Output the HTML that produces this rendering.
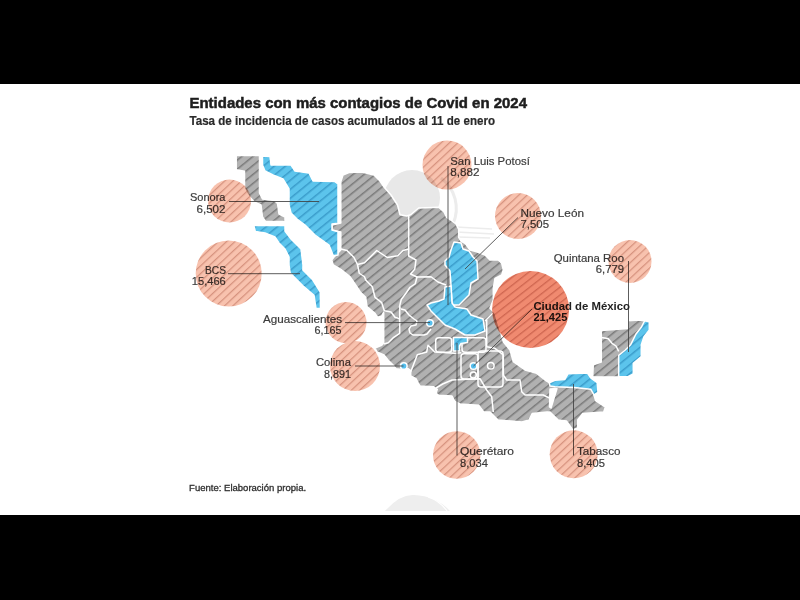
<!DOCTYPE html>
<html><head><meta charset="utf-8">
<style>
html,body{margin:0;padding:0;background:#000;}
body{width:800px;height:600px;overflow:hidden;position:relative;}
svg{position:absolute;left:0;top:0;}
text{font-family:"Liberation Sans",sans-serif;}
</style></head>
<body>
<svg width="800" height="600" viewBox="0 0 800 600">
<defs>
<pattern id="hg" patternUnits="userSpaceOnUse" width="7" height="7" patternTransform="rotate(-39)">
<rect width="7" height="7" fill="#b1b1b1"/><rect y="0" width="7" height="1.5" fill="#7a7a7a"/>
</pattern>
<pattern id="hb" patternUnits="userSpaceOnUse" width="7" height="7" patternTransform="rotate(-39)">
<rect width="7" height="7" fill="#5cc4ec"/><rect y="0" width="7" height="1.5" fill="#3a9ccb"/>
</pattern>
<pattern id="hs" patternUnits="userSpaceOnUse" width="5.7" height="5.7" patternTransform="rotate(-43)">
<rect width="5.7" height="5.7" fill="#f8c2ae"/><rect y="0" width="5.7" height="1.25" fill="#d6927e"/>
</pattern>
<pattern id="hc" patternUnits="userSpaceOnUse" width="6.2" height="6.2" patternTransform="rotate(-38)">
<rect width="6.2" height="6.2" fill="#f08a70"/><rect y="0" width="6.2" height="1.3" fill="#cf6650"/>
</pattern>
</defs>
<rect x="0" y="84" width="800" height="431" fill="#ffffff"/>

<!-- watermark -->
<g fill="none" stroke="#ececec">
<circle cx="412" cy="198" r="28" fill="#e8e8e8" stroke="none"/>
<path d="M441 178 A38 38 0 0 1 453 224" stroke-width="3"/>
<path d="M456 227 L492 229 M456 232 L494 234 M458 237 L490 238" stroke-width="1.6"/>
<path d="M385 511 Q400 494 414 495 Q436 496 450 511 Z" fill="#eeeeee" stroke="none"/><path d="M428 497 Q440 501 447 511" stroke="#fff" stroke-width="1.2"/>
</g>
<!-- map -->
<g id="map" stroke="#fff" stroke-width="1.5" stroke-linejoin="round">
<!-- Baja California -->
<path fill="url(#hg)" d="M236.2,155.5 L259.5,155.5 L259.5,193 L262.5,199 L274.5,200.5 L277.5,203.5 L279,214 L285,217 L285,221.5 L265.5,221.5 L262.5,217 L261,205 L254.2,202 L247.5,194.5 L244.5,188.5 L244.5,171.2 L236.2,169.7 Z"/>
<!-- BCS -->
<path fill="url(#hb)" d="M253.8,225.5 L285,225.5 L285,231 L291,239 L297,245 L301,249 L303,265 L302.9,269.9 L312.4,279.4 L320.3,292 L320.5,308.5 L316,308.5 L314,295.3 L302.9,285.8 L290.2,273 L289,265 L289,257 L285,249 L279,243 L275,237 L265,233 L255.3,231.5 Z"/>
<!-- mainland gray -->
<path fill="url(#hg)" d="M340.8,181.7 L343,175 L349,172.5 L362,172 L374,175 L380,181 L384,187 L391,195 L397.5,205 L400,214.7 L406.7,216 L410.7,214.7 L418.7,208 L438.7,207.3 L444,212 L446.7,217.3 L450.7,220 L456,224 L458.7,229.3 L458.7,237.3 L461,241 L465.3,243.5 L470,250 L476.7,251.7 L485,255 L490,260 L498.3,260 L501.7,263.3 L503.3,270 L501.7,275 L495,278.3 L493.3,288.3 L493.3,300 L490,308.3 L495,313.3 L500,330 L503.3,341.7 L510,350 L513.3,361.7 L525,370 L536.7,373.3 L545,380 L550,383 L555,380.3 L564.7,379.5 L568,373.8 L587.5,373 L590.7,377.9 L597.2,382.7 L598,392.5 L594,395 L595.6,400.6 L605.4,407 L603.7,412 L582.6,413.6 L577.7,420 L577.7,428 L572.9,429.9 L566.4,421 L558.2,420.1 L550,412 L546.9,412 L532.2,413.6 L529,420 L522,422 L498,420 L490,412 L483.7,412 L478.7,405.3 L460,404 L454.7,401.3 L452,396 L438.7,395.3 L436,393.3 L437.3,389.3 L433.3,386.7 L420,386 L418.7,384 L416,378.7 L410.7,376 L410.7,370.7 L408,368.7 L400,369.3 L396,368.7 L393.3,365.3 L388,360 L384,355 L377,352 L375,348 L381.7,345.3 L383.7,342.7 L383.7,312 L381.7,316 L377.7,317.3 L375,313.3 L367,306.7 L365.7,297.3 L360.3,292 L355,284 L350,276.7 L341.7,270 L333.3,265 L331.7,260 L334,257 L340.8,250 L340.8,232 L332,230 L332,225 L340.8,223 Z"/>
<!-- Sonora -->
<path fill="url(#hb)" d="M262.5,156 L270,156.5 L271,165 L291,165 L295,171 L309,173 L313,181 L334.6,181.5 L338,184 L338,223.3 L332,224 L332,230 L338,231.7 L338,255 L333.3,255.8 L329,245 L315,235 L305,225 L297,219 L291,213 L289,205 L289,189 L283,179 L273,175 L265,171 L262.5,165 Z"/>
<!-- Yucatan peninsula gray -->
<path fill="url(#hg)" d="M601.3,330.5 L628,328.5 L628,320.7 L640,320 L645,321 L646,326 L641,336 L638,346 L630,356 L625,377 L592.7,376.7 L593.3,364.7 L601.3,362 Z"/>
<!-- Quintana Roo -->
<path fill="url(#hb)" d="M618.7,376.7 L618.7,355.3 L625.3,350 L630.7,344.7 L636,334 L641.3,327.3 L644,322 L645.3,320.7 L649.3,322 L649.3,330 L644,336.7 L641.3,344.7 L641.3,356.7 L633.3,363.3 L633.3,374 L628,376.7 Z"/>
<!-- internal borders -->
<g fill="none">
<path d="M601.3,337.5 L608,338.5 L612,343.3 L616,346 L618.7,351.3"/>
<path d="M340.8,249 L347,250.5 L354,257.5 L357.5,264.5 L364.5,262.75 L371.5,255.75 L376.75,250.5 L382,254 L387.25,257.5 L397.75,255.75 L403,250.5 L408.7,249"/>
<path d="M408.7,215 L408.7,256 L416,260 L414.7,269.3 L410.5,274 L417,277 L415.25,283.75 L410,287.25 L406.5,292.5 L401.25,299.5 L399.5,306.5 L400,309"/>
<path d="M417,277 L431,276.75 L438,282 L446,285"/>
<path d="M357.5,264.5 L359.25,273.25 L364.5,276.75 L365.7,280 L372.3,286.7 L375,297.3 L381.7,302.7 L384.3,310.7 L391,312 L395,317.3 L399.7,318.7"/>
<path d="M399.7,306 L399.7,333.3 L393.7,337.3 L388.3,342.7 L383.7,344"/>
<path d="M401,309 L405,310 L409,315 L414,319 L417,321 L416,325 L411,326 L409,329 L410,333 L413,335 L424,335 L427,334 L431,329"/>
<path d="M410.7,372 L417.3,354.7 L426.7,352 L428,345.3 L434.7,352 L454.7,353.3 L461.3,352.7"/>
<path d="M436,388 L442.7,384 L452,380 L480,378.7 L486.7,390 L491.7,396.7 L493.3,412"/>
<path d="M486.7,320 L486.7,346.7 L495,348.3 L503.3,355 L503.3,375 L506.7,380 L520,380 L521.7,391.7 L525,395 L543.3,395 L550,398.3 L553,392"/>
<path d="M550,389 L557,388.5 L551,408 L549.5,407 Z" fill="#fff"/>
<rect x="435.7" y="337.7" width="16" height="14.6" rx="3"/>
<rect x="462" y="337.7" width="24" height="14.6" rx="3"/>
<rect x="461" y="353.7" width="17" height="25.3" rx="3"/>
<rect x="478" y="351" width="25" height="36" rx="3"/>
<circle cx="490.8" cy="365.8" r="3.3"/>
<circle cx="473.3" cy="375" r="3"/>
<path d="M485,321 L493,313"/>
</g>
<!-- Nuevo Leon -->
<path fill="url(#hb)" d="M454,242 L461,243 L463,249 L469,251 L473,257 L477,261 L478,279 L471,283 L469,295 L463,301 L459,305 L453,305 L452,303 L451,285 L450,271 L445,265 L445,261 L449,257 L451,250 Z"/>
<!-- SLP -->
<path fill="url(#hb)" d="M445,287 L451,286 L452,303 L455,307 L467,309 L471,315 L483,319 L485,331 L475,335 L465,335 L455,329 L445,325 L439,319 L431,311 L427,305 L431,303 L439,301 L444,299 Z"/>
<!-- Queretaro -->
<path fill="url(#hb)" d="M453.5,337.5 L467.5,337.5 L467.5,342.5 L461,343.5 L459.5,346 L459.5,351 L453.5,351 Z"/>
<!-- Tabasco -->
<path fill="url(#hb)" d="M549.3,382.7 L555,380.3 L564.7,379.5 L568,373.8 L587.5,373 L590.7,377.9 L597.2,382.7 L598,392.5 L594,395 L590.7,389.2 L574.5,387.6 L555,386.8 L550,386 Z"/>
<!-- dots -->
<circle cx="430" cy="323" r="3.3" fill="#55bfee"/>
<circle cx="403.8" cy="366" r="3.3" fill="#55bfee"/>
<circle cx="473.5" cy="366" r="3.3" fill="#55bfee"/>
</g>

<!-- leader lines -->
<g stroke="#404040" stroke-width="0.85" fill="none">
<path d="M229,201.5 L319,201.5"/>
<path d="M228,273.7 L300,273.7"/>
<path d="M448,166 L448,305"/>
<path d="M518,217.5 L465,269"/>
<path d="M628.5,261 L628.5,352"/>
<path d="M532,309 L473.5,366"/>
<path d="M345,322.6 L430,322.6"/>
<path d="M355,366 L403.5,366"/>
<path d="M457,343 L457,455.5"/>
<path d="M573.5,384 L573.5,455.5"/>
</g>

<!-- text -->
<g fill="#262626">
<text x="189.5" y="107.8" font-size="14.8" font-weight="bold" textLength="337.5" lengthAdjust="spacingAndGlyphs" fill="#1e1e1e" stroke="#1e1e1e" stroke-width="0.5">Entidades con más contagios de Covid en 2024</text>
<text x="189.5" y="124.7" font-size="12.4" font-weight="bold" textLength="305.5" lengthAdjust="spacingAndGlyphs" fill="#2a2a2a" stroke="#2a2a2a" stroke-width="0.2">Tasa de incidencia de casos acumulados al 11 de enero</text>
</g>
<g fill="#3c3c3c" font-size="11.8" stroke="#3c3c3c" stroke-width="0.2">
<text x="225.5" y="201" text-anchor="end" textLength="35.5" lengthAdjust="spacingAndGlyphs">Sonora</text>
<text x="225.5" y="213" text-anchor="end" textLength="29" lengthAdjust="spacingAndGlyphs">6,502</text>
<text x="226" y="273.7" text-anchor="end" textLength="21" lengthAdjust="spacingAndGlyphs">BCS</text>
<text x="225.8" y="285.3" text-anchor="end" textLength="34" lengthAdjust="spacingAndGlyphs">15,466</text>
<text x="450.3" y="164.8" textLength="79.5" lengthAdjust="spacingAndGlyphs">San Luis Potosí</text>
<text x="450.3" y="176.2" textLength="29.3" lengthAdjust="spacingAndGlyphs">8,882</text>
<text x="520.5" y="216.7" textLength="63.5" lengthAdjust="spacingAndGlyphs">Nuevo León</text>
<text x="520.5" y="228.3" textLength="28.5" lengthAdjust="spacingAndGlyphs">7,505</text>
<text x="624" y="261.7" text-anchor="end" textLength="70.3" lengthAdjust="spacingAndGlyphs">Quintana Roo</text>
<text x="624" y="273" text-anchor="end" textLength="28.2" lengthAdjust="spacingAndGlyphs">6,779</text>
<text x="342" y="323" text-anchor="end" textLength="79" lengthAdjust="spacingAndGlyphs">Aguascalientes</text>
<text x="341.5" y="334.4" text-anchor="end" textLength="27" lengthAdjust="spacingAndGlyphs">6,165</text>
<text x="351" y="366.4" text-anchor="end" textLength="35" lengthAdjust="spacingAndGlyphs">Colima</text>
<text x="351" y="378" text-anchor="end" textLength="27" lengthAdjust="spacingAndGlyphs">8,891</text>
<text x="460" y="455.4" textLength="54" lengthAdjust="spacingAndGlyphs">Querétaro</text>
<text x="460" y="466.5" textLength="28" lengthAdjust="spacingAndGlyphs">8,034</text>
<text x="577" y="455.4" textLength="43.5" lengthAdjust="spacingAndGlyphs">Tabasco</text>
<text x="577" y="466.5" textLength="28" lengthAdjust="spacingAndGlyphs">8,405</text>
<text x="533.4" y="309.5" font-weight="bold" textLength="96.6" lengthAdjust="spacingAndGlyphs" fill="#222" stroke="none">Ciudad de México</text>
<text x="533.4" y="320.9" font-weight="bold" textLength="34" lengthAdjust="spacingAndGlyphs" fill="#222" stroke="none">21,425</text>
<text x="189.1" y="490.6" font-size="9.6" textLength="117" lengthAdjust="spacingAndGlyphs" fill="#2e2e2e" stroke="#2e2e2e" stroke-width="0.3">Fuente: Elaboración propia.</text>
</g>

<!-- circles (multiply) -->
<g style="mix-blend-mode:multiply">
<circle cx="229.5" cy="201" r="21.5" fill="url(#hs)"/>
<circle cx="228.7" cy="273.5" r="33" fill="url(#hs)"/>
<circle cx="447" cy="165" r="24.5" fill="url(#hs)"/>
<circle cx="518" cy="216" r="23" fill="url(#hs)"/>
<circle cx="630" cy="261.5" r="21.5" fill="url(#hs)"/>
<circle cx="530.6" cy="309.5" r="38.5" fill="url(#hc)"/>
<circle cx="346" cy="322.5" r="20.5" fill="url(#hs)"/>
<circle cx="355" cy="366" r="25" fill="url(#hs)"/>
<circle cx="456.7" cy="455" r="23.7" fill="url(#hs)"/>
<circle cx="573.7" cy="454.3" r="24" fill="url(#hs)"/>
</g>
</svg>
</body></html>
